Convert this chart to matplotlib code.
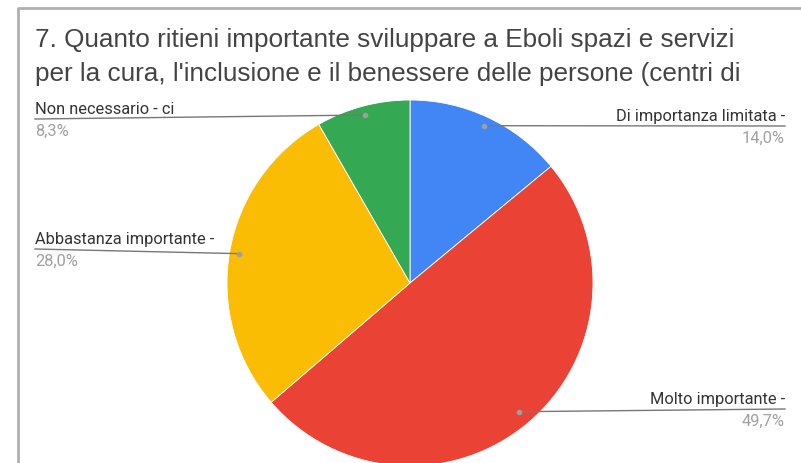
import numpy as np
import matplotlib.pyplot as plt

plt.rcParams['font.family'] = ['Liberation Sans', 'DejaVu Sans']

# dati
categorie = ['Di importanza limitata', 'Molto importante',
             'Abbastanza importante', 'Non necessario - ci']
valori = [14.0, 49.7, 28.0, 8.3]
colori = ['#4285F4', '#EA4335', '#FBBC04', '#34A853']
titolo = ("7. Quanto ritieni importante sviluppare a Eboli spazi e servizi\n"
          "per la cura, l'inclusione e il benessere delle persone (centri di")

W, H = 801, 464
fig = plt.figure(figsize=(W / 100, H / 100), dpi=100)
ax = fig.add_axes([0, 0, 1, 1])

cx, cy, R = 410, H - 284, 183
ax.pie(valori, colors=colori, startangle=90, counterclock=False,
       center=(cx, cy), radius=R, frame=True,
       wedgeprops=dict(linewidth=0.6, edgecolor='white'))
ax.set_xlim(0, W)
ax.set_ylim(0, H)
ax.set_aspect('equal')
ax.axis('off')

# bordo della scheda
ax.plot([17.5, 17.5, W], [0, H - 8.5, H - 8.5], color='#b0b0b0', lw=2,
        solid_capstyle='butt', clip_on=False)

ax.text(35, H - 57, titolo, fontsize=18.8, color='#444444', va='center',
        linespacing=1.5)

# posizione delle etichette (lato, y del testo)
lato = ['r', 'r', 'l', 'l']
y_testo = [117, 400, 240, 110]

cum = np.cumsum([0] + valori[:-1])
for i, (nome, v) in enumerate(zip(categorie, valori)):
    ang = np.deg2rad(90 - (cum[i] + v / 2) / 100 * 360)
    rr = 0.95 * R if i != 1 else 0.92 * R
    px = cx + rr * np.cos(ang)
    py = cy + rr * np.sin(ang)
    yt = H - y_testo[i]
    yl = yt - 10
    pct = ('%.1f%%' % v).replace('.', ',')
    if lato[i] == 'r':
        ax.plot([px, 785], [py, yl], color='#777777', lw=1)
        ax.text(785, yt, nome + ' -', ha='right', va='center',
                fontsize=11.8, color='#333333', family='Roboto')
        ax.text(785, yt - 21, pct, ha='right', va='center',
                fontsize=11.8, color='#a0a0a0', family='Roboto')
    else:
        ax.plot([35, px], [yl, py], color='#777777', lw=1)
        testo = nome if nome.endswith('ci') else nome + ' -'
        ax.text(35, yt, testo, ha='left', va='center',
                fontsize=11.8, color='#333333', family='Roboto')
        ax.text(35, yt - 21, pct, ha='left', va='center',
                fontsize=11.8, color='#a0a0a0', family='Roboto')
    ax.plot(px, py, 'o', color='#9e9e9e', ms=3)

fig.savefig('out.png', dpi=100, facecolor='white')
